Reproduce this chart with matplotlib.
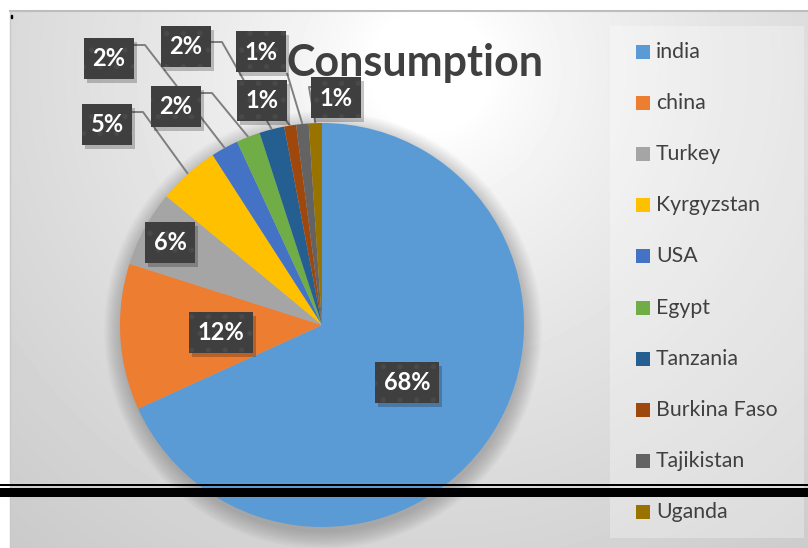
import matplotlib
matplotlib.use('Agg')
import matplotlib.pyplot as plt
import numpy as np
from matplotlib.patches import Rectangle, Circle

# ---- data ----
countries = ['india', 'china', 'Turkey', 'Kyrgyzstan', 'USA', 'Egypt',
             'Tanzania', 'Burkina Faso', 'Tajikistan', 'Uganda']
shares = [68.2, 11.7, 6.1, 4.9, 2.2, 1.9, 2.0, 0.95, 1.0, 1.05]
colors = ['#5B9BD5', '#ED7D31', '#A5A5A5', '#FFC000', '#4472C4', '#70AD47',
          '#255E91', '#9E480E', '#636363', '#997300']
title = 'Consumption'

W, H = 808, 548
FONT = ['Lato', 'DejaVu Sans']
plt.rcParams['font.family'] = FONT
plt.rcParams['hatch.linewidth'] = 1.4

fig = plt.figure(figsize=(W / 100, H / 100), dpi=100, facecolor='white')
ax = fig.add_axes([0, 0, 1, 1])

# background radial gradient of chart area
x0, y0 = 10, 11
yy, xx = np.mgrid[y0:H, x0:W]
r = np.hypot(xx - 430, yy - 70)
v = 255 - 53 * np.clip((r - 60) / 577, 0, 1) ** 0.75
ax.imshow(v, cmap='gray', vmin=0, vmax=255, extent=(x0, W, H, y0),
          origin='upper', zorder=0, interpolation='bilinear')
ax.plot([x0, W], [y0, y0], color='#bdbdbd', lw=1.5, zorder=1)
ax.plot([x0, x0], [y0, H], color='#c8c8c8', lw=1.0, zorder=1)
ax.add_patch(Rectangle((11, 15), 1.2, 2.5, color='black', zorder=1))

# pie
cx, cy, R = 322, 325, 202
for i in range(14):
    ax.add_patch(Circle((cx + 1, cy + 5), R + i * 1.3, color='black',
                        alpha=0.015, lw=0, zorder=1))
wedges, _ = ax.pie(shares, colors=colors, startangle=-90, counterclock=True,
                   center=(cx, cy), radius=R, frame=True,
                   wedgeprops=dict(linewidth=0, zorder=2))
for w in wedges:
    w.set_zorder(2)

# data labels
total = sum(shares)
cum = np.cumsum(shares)
mids = [np.deg2rad(-90 + 360 * (c - s / 2) / total) for c, s in zip(cum, shares)]
arc_pts = [(cx + R * np.cos(a), cy + R * np.sin(a)) for a in mids]

label_pos = {0: (407, 382), 1: (221, 332), 2: (170, 242), 3: (107, 124),
             4: (109, 58), 5: (176, 106), 6: (186, 46), 7: (262, 100),
             8: (261, 51), 9: (336, 97)}
leaders = {3: [(132, 112), (143, 112)], 4: [(134, 45), (145, 45)],
           5: [(201, 93), (212, 93)], 6: [(211, 42), (222, 42)],
           7: [(284, 118)], 8: [(287, 73)], 9: [(311, 87), (309, 87)]}

for i, pts in leaders.items():
    path = pts + [arc_pts[i]]
    ax.plot([p[0] for p in path], [p[1] for p in path], color='#7f7f7f',
            lw=1.4, zorder=3, solid_capstyle='butt')

for i, (lx, ly) in label_pos.items():
    txt = f"{round(shares[i])}%"
    bw = 50 if len(txt) <= 2 else 64
    bh = 41
    ax.add_patch(Rectangle((lx - bw / 2 + 3, ly - bh / 2 + 4), bw, bh,
                           facecolor='black', alpha=0.22, lw=0, zorder=4))
    ax.add_patch(Rectangle((lx - bw / 2, ly - bh / 2), bw, bh,
                           facecolor='#3f3f3f', edgecolor='#494949',
                           hatch='.', lw=0, zorder=5))
    ax.text(lx, ly + 1, txt, ha='center', va='center', color='white',
            fontsize=17, fontweight='bold', zorder=6)

# title
ax.text(415, 63, title, ha='center', va='center', fontsize=31,
        fontweight='bold', color='#404040', zorder=3.5)

# legend
ax.add_patch(Rectangle((610, 26), 194, 512, facecolor='white', alpha=0.3,
                       lw=0, zorder=2))
for i, (name, col) in enumerate(zip(countries, colors)):
    yc = 52 + 51.1 * i
    ax.add_patch(Rectangle((636, yc - 7), 14, 14, facecolor=col, lw=0, zorder=3))
    ax.text(656, yc, name, ha='left', va='center', fontsize=15.3,
            color='#404040', zorder=3)

# black double rule across the picture
ax.add_patch(Rectangle((0, 483.5), W, 2.2, facecolor='black', lw=0, zorder=10))
ax.add_patch(Rectangle((0, 488), W, 9, facecolor='black', lw=0, zorder=10))

ax.set_xlim(0, W)
ax.set_ylim(H, 0)
ax.set_aspect('auto')
ax.set_axis_off()

fig.savefig('out.png', dpi=100, facecolor='white')
